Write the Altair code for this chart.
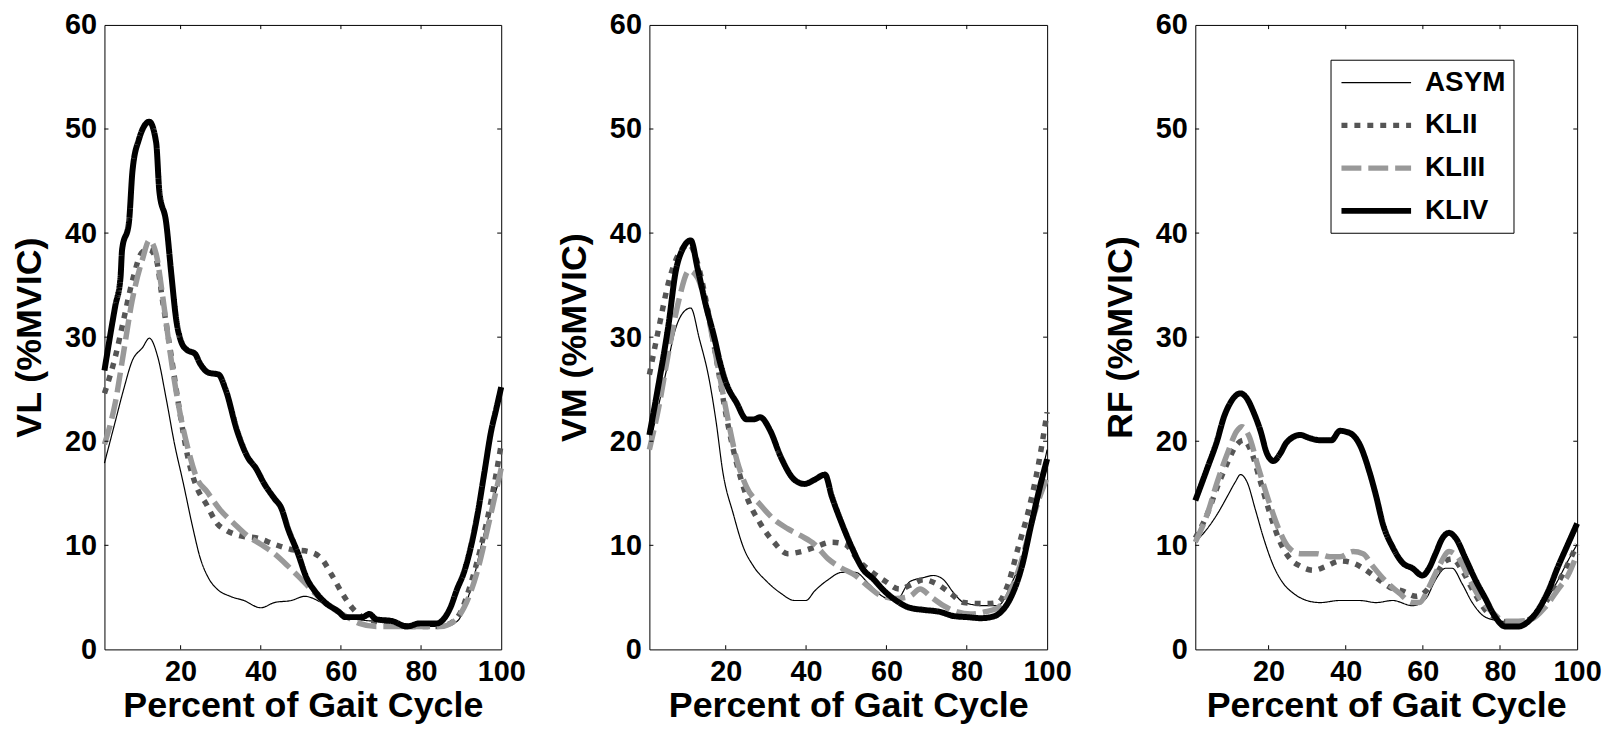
import altair as alt
import pandas as pd

FONT = "Liberation Sans"
GROUPS = ["ASYM", "KLII", "KLIII", "KLIV"]
COLORS = ["#000000", "#555555", "#999999", "#000000"]
DASHES = [[1, 0], [6, 7], [20, 7], [1, 0]]
WIDTHS = [1.2, 5.5, 5.5, 6]

X_TICKS = [20, 40, 60, 80, 100]
Y_TICKS = [0, 10, 20, 30, 40, 50, 60]

# ---------------- VL ----------------
VL_ASYM_X = [1, 3.7, 5.8, 7.9, 10.5, 12.2, 14.3, 16.4, 18.5, 20.6, 23.1, 24.8, 26.9, 29.1, 32.4, 35.8, 40, 43.4, 47.6, 51, 55.2, 59.5, 63.7, 68.8, 75.5, 81.4, 85.6, 89, 92.4, 95.8, 98.3, 100]
VL_ASYM_Y = [17.9, 21.9, 25, 27.7, 29, 29.9, 28.1, 24.1, 19.7, 16.1, 11.6, 8.9, 6.9, 5.8, 5.1, 4.7, 4.0, 4.5, 4.7, 5.1, 4.5, 3.6, 2.9, 2.7, 2.5, 2.2, 2.2, 2.7, 5.8, 11.2, 14.7, 17]
VL_KLII_X = [1, 3.7, 5.8, 7.9, 10.5, 12.2, 13.9, 15.5, 17.7, 19.8, 21.9, 24, 26.5, 29.1, 31.6, 35, 39.2, 43.4, 47.6, 51.9, 55.2, 57.8, 60.3, 62.8, 65.4, 68.8, 73, 77.2, 84, 87.3, 89.9, 92.4, 94.9, 97.5, 100]
VL_KLII_Y = [24.6, 28.1, 31.7, 35.3, 38.2, 38.4, 37.5, 33.5, 28.1, 22.8, 18.3, 15.6, 13.9, 12.1, 11.4, 10.9, 10.7, 10.1, 9.6, 9.4, 8.7, 7.1, 5.4, 4, 3.1, 2.7, 2.5, 2.2, 2.2, 2.5, 3.6, 6.3, 9.8, 14.3, 19.7]
VL_KLIII_X = [1, 3.7, 5.8, 7.9, 10.5, 12.2, 13.9, 15.5, 17.7, 19.8, 21.9, 24, 26.5, 29.9, 33.3, 36.7, 40, 43.4, 46.8, 50.2, 53.5, 56.9, 60.3, 64.6, 68.8, 77.2, 84.8, 88.2, 90.7, 94.1, 96.6, 98.7, 100]
VL_KLIII_Y = [19.7, 23.7, 28.6, 33.5, 37.5, 39.3, 38, 34, 27.7, 22.8, 19.2, 16.5, 15.2, 13.4, 12.1, 10.9, 10.1, 9.2, 8, 6.7, 5.4, 4.2, 3.4, 2.5, 2.2, 2.2, 2.2, 2.7, 4, 7.6, 11.6, 15.2, 17.4]
VL_KLIV_X = [1, 3.7, 5, 5.4, 7.1, 8, 9.6, 12.2, 13.9, 14.7, 16.4, 17.7, 18.9, 20.2, 21.5, 23.6, 24.8, 26.9, 29.5, 31.2, 34.1, 36.7, 38.8, 40.9, 43.4, 45.1, 46.8, 49.3, 51.4, 53.5, 56.1, 59.5, 61.1, 65.4, 67.1, 68.8, 73, 76.4, 79.7, 84, 85.6, 87.3, 89, 90.7, 92.4, 94.1, 95.8, 97.5, 98.7, 100]
VL_KLIV_Y = [26.8, 33, 35.7, 38.4, 41, 46, 49, 50.7, 48.7, 44, 41, 36, 31.7, 29.5, 28.8, 28.4, 27.5, 26.6, 26.4, 25, 21, 18.5, 17.4, 15.9, 14.5, 13.6, 11.6, 9.2, 6.9, 5.6, 4.5, 3.6, 3.1, 3.1, 3.4, 2.9, 2.7, 2.2, 2.5, 2.5, 2.9, 4, 5.8, 7.4, 9.8, 13, 17, 21, 23, 25.2]

# ---------------- VM ----------------
VM_ASYM_X = [1, 5, 7.5, 10, 11.3, 13.4, 15.9, 17.6, 19.3, 21.9, 24.4, 26.9, 30.3, 33.7, 37.1, 40, 42.1, 45.5, 48.9, 52.3, 55.6, 59, 62.4, 65.8, 69.2, 71.7, 74.2, 76.8, 79.3, 84.4, 87.7, 91.1, 94.5, 97, 100]
VM_ASYM_Y = [19.5, 26.4, 30.8, 32.6, 32.8, 29.9, 25.9, 21.9, 17, 13, 9.8, 8, 6.5, 5.4, 4.7, 4.7, 5.6, 6.7, 7.4, 7.4, 6.3, 5.1, 4.7, 6.5, 6.9, 7.1, 6.7, 5.4, 4.5, 4.2, 4.2, 6.3, 9.8, 13.9, 19.2]
VM_KLII_X = [1, 3.3, 5.8, 8.3, 10.9, 13, 15.1, 17.6, 20.2, 22.7, 25.2, 28.6, 32, 35.4, 38.8, 42.1, 46.4, 49.7, 53.1, 56.5, 59.9, 63.2, 66.6, 69.2, 72.5, 75.9, 79.3, 84.4, 87.7, 90.3, 92.8, 95.4, 97.9, 100]
VM_KLII_Y = [26.4, 30.8, 35.3, 38, 38.9, 37.1, 33.5, 28.1, 22.3, 17.9, 14.7, 12.1, 10.3, 9.2, 9.4, 9.8, 10.3, 10.1, 8.5, 7.4, 6.5, 5.8, 6.3, 6.7, 6.3, 5.4, 4.5, 4.4, 4.5, 6.3, 9.8, 13.4, 17.9, 22.8]
VM_KLIII_X = [1, 3.3, 5.8, 8.3, 10.9, 13, 15.1, 17.6, 20.2, 22.7, 25.2, 28.6, 32, 35.4, 38.8, 42.1, 45.5, 48.9, 52.3, 55.6, 59, 62.4, 65.8, 68.4, 70.9, 74.2, 77.6, 81, 84.4, 87.7, 91.1, 93.6, 96.1, 98.2, 100]
VM_KLIII_Y = [19.2, 23.2, 28.6, 33.5, 36.4, 35.7, 33, 28.1, 22.8, 18.3, 15.6, 13.9, 12.5, 11.6, 10.9, 10.1, 8.7, 7.8, 7.1, 6, 5.1, 4.9, 5.1, 5.8, 5.1, 4.2, 3.6, 3.4, 3.6, 4, 5.8, 8.5, 12.1, 14.7, 16.5]
VM_KLIV_X = [1, 3.3, 5.8, 7.5, 9.2, 11.3, 13, 15.1, 17.2, 18.5, 20.2, 22.7, 25.2, 26.9, 28.6, 31.1, 33.7, 37.1, 39.6, 42.1, 44.7, 46.4, 48.9, 51.4, 54, 56.9, 59, 62.4, 65.8, 69.2, 73.4, 76.8, 80.1, 83.5, 86, 88.5, 91.1, 93.6, 96.1, 98.2, 100]
VM_KLIV_Y = [20.6, 25.5, 31.3, 36.2, 38.4, 39.3, 36.6, 33, 29.9, 27.7, 25.5, 23.7, 22.1, 22.1, 22.3, 21, 18.5, 16.3, 15.9, 16.3, 16.8, 14.7, 12.1, 9.8, 7.8, 6.7, 5.8, 4.7, 4, 3.8, 3.6, 3.2, 3.1, 3, 3.1, 3.6, 5.1, 7.8, 12.1, 15.6, 18.3]

# ---------------- RF ----------------
RF_ASYM_X = [1, 4.1, 6.7, 9.3, 11.4, 12.7, 14.4, 16.6, 18.7, 21.3, 23.9, 26.4, 29.9, 33.3, 38.5, 43.6, 47.9, 52.2, 57.3, 60.8, 63.3, 65.9, 67.6, 70.2, 72.8, 76.2, 80.5, 84.8, 88.2, 91.6, 95.1, 97.6, 100]
RF_ASYM_Y = [10.3, 11.6, 13, 14.7, 16.1, 16.8, 16.1, 13.4, 10.7, 8, 6.3, 5.4, 4.7, 4.5, 4.7, 4.7, 4.5, 4.7, 4.2, 4.9, 6.7, 7.8, 7.8, 6.3, 4.5, 3.1, 2.7, 2.5, 2.9, 4.5, 6.7, 8.5, 10.1]
RF_KLII_X = [1, 4.1, 6.7, 9.3, 11.8, 13.6, 15.3, 17.9, 20.4, 23, 25.6, 28.2, 31.6, 35, 38.5, 41.9, 44.5, 47.9, 51.3, 54.8, 58.2, 60.8, 63.3, 65.9, 67.6, 70.2, 72.8, 76.2, 79.7, 83.1, 86.5, 89.9, 93.4, 96.8, 100]
RF_KLII_Y = [10.7, 13, 15.6, 17.9, 19.7, 20.1, 19.2, 16.1, 13, 10.3, 8.7, 8, 7.6, 8, 8.5, 8.3, 7.8, 6.9, 6, 5.6, 5.1, 5.6, 7.1, 8.5, 8.7, 7.6, 5.8, 3.8, 2.9, 2.5, 2.7, 3.6, 5.4, 7.6, 10.1]
RF_KLIII_X = [1, 4.1, 6.7, 9.3, 11.8, 13.1, 14.8, 17.4, 20, 22.6, 25.2, 28.2, 32.4, 35.9, 38.5, 41.9, 44.5, 47, 50.5, 53.9, 57.3, 59.1, 61.6, 64.2, 66.8, 69.4, 71.9, 74.5, 77.9, 81.4, 84.8, 88.2, 91.6, 95.1, 97.6, 100]
RF_KLIII_Y = [10.3, 13, 16.1, 18.8, 21, 21.4, 20.6, 17.4, 14.3, 11.6, 9.8, 9.2, 9.2, 8.9, 8.9, 9.4, 9.2, 8, 6.5, 5.4, 4.5, 4.5, 6, 8, 9.4, 8.7, 6.9, 5.1, 3.6, 2.7, 2.7, 2.9, 4, 5.8, 7.1, 9.2]
RF_KLIV_X = [1, 4.1, 6.7, 8.4, 10.1, 12.7, 14.4, 16.1, 17.9, 19.6, 21.3, 23, 24.7, 28.2, 30.7, 33.3, 36.3, 38.5, 41, 43.6, 46.2, 47.9, 49.6, 52.2, 54.8, 57.3, 59.9, 61.6, 63.3, 65.1, 66.8, 68.5, 71.1, 73.6, 76.2, 78.8, 81.4, 84.8, 87.4, 89.9, 92.5, 95.1, 97.6, 100]
RF_KLIV_Y = [14.3, 17.4, 20.1, 22.3, 23.7, 24.6, 24.1, 22.8, 21, 18.8, 18.1, 18.8, 19.9, 20.6, 20.3, 20.1, 20.1, 21, 20.8, 19.7, 17, 14.7, 12.1, 9.8, 8.3, 7.8, 7.1, 7.8, 9.2, 10.7, 11.2, 10.7, 8.7, 6.7, 4.9, 3.1, 2.2, 2.2, 2.7, 3.8, 5.6, 8, 10.1, 12.1]

PANELS = [
    ("VL", [(VL_ASYM_X, VL_ASYM_Y), (VL_KLII_X, VL_KLII_Y), (VL_KLIII_X, VL_KLIII_Y), (VL_KLIV_X, VL_KLIV_Y)]),
    ("VM", [(VM_ASYM_X, VM_ASYM_Y), (VM_KLII_X, VM_KLII_Y), (VM_KLIII_X, VM_KLIII_Y), (VM_KLIV_X, VM_KLIV_Y)]),
    ("RF", [(RF_ASYM_X, RF_ASYM_Y), (RF_KLII_X, RF_KLII_Y), (RF_KLIII_X, RF_KLIII_Y), (RF_KLIV_X, RF_KLIV_Y)]),
]

# inward tick marks (MATLAB-style box ticks), in data units
TICK_LEN_X = 1.0
TICK_LEN_Y = 0.4
tick_rows = []
for t in [20, 40, 60, 80]:
    tick_rows.append({"x": t, "x2": t, "y": 0, "y2": TICK_LEN_Y})
    tick_rows.append({"x": t, "x2": t, "y": 60, "y2": 60 - TICK_LEN_Y})
for t in [10, 20, 30, 40, 50]:
    tick_rows.append({"x": 1, "x2": 1 + TICK_LEN_X, "y": t, "y2": t})
    tick_rows.append({"x": 100, "x2": 100 - TICK_LEN_X, "y": t, "y2": t})
ticks_df = pd.DataFrame(tick_rows)

WIDTHS_PX = [399, 400, 384]
H = 628

# legend line symbol: a horizontal path longer than the slot it sits in
SYM_HALF = 2.5
SYM_PATH = f"M-{SYM_HALF},0H{SYM_HALF}"


def make_panel(name, series, show_legend, width):
    rows = []
    for g, (xs, ys) in zip(GROUPS, series):
        for i, (xv, yv) in enumerate(zip(xs, ys)):
            rows.append({"group": g, "x": xv, "y": yv, "i": i})
    df = pd.DataFrame(rows)

    if show_legend:
        legend = alt.Legend(
            title=None, orient="none", legendX=136, legendY=35,
            symbolType=SYM_PATH, symbolSize=784, symbolOffset=21,
            labelFont=FONT, labelFontSize=28, labelFontWeight="bold", labelColor="black",
            strokeColor="black", fillColor="white", padding=8,
            rowPadding=12, labelOffset=32,
        )
    else:
        legend = None

    xscale = alt.Scale(domain=[1, 100], nice=False, zero=False)
    yscale = alt.Scale(domain=[0, 60], nice=False)

    lines = alt.Chart(df).mark_line(interpolate="monotone").encode(
        x=alt.X("x:Q", scale=xscale,
                axis=alt.Axis(values=X_TICKS, title="Percent of Gait Cycle", ticks=False, tickSize=0,
                              domain=False, grid=False, labelPadding=8, titlePadding=2,
                              labelFlush=False)),
        y=alt.Y("y:Q", scale=yscale,
                axis=alt.Axis(values=Y_TICKS, title=f"{name} (%MVIC)", ticks=False, tickSize=0,
                              domain=False, grid=False, labelPadding=8, titlePadding=16)),
        color=alt.Color("group:N", scale=alt.Scale(domain=GROUPS, range=COLORS), legend=legend),
        strokeDash=alt.StrokeDash("group:N", scale=alt.Scale(domain=GROUPS, range=DASHES), legend=legend),
        strokeWidth=alt.StrokeWidth("group:N", scale=alt.Scale(type="ordinal", domain=GROUPS, range=WIDTHS),
                                    legend=legend),
        order="i:Q",
    )

    tk = alt.Chart(ticks_df).mark_rule(color="black", strokeWidth=1).encode(
        x=alt.X("x:Q", scale=xscale), x2="x2:Q",
        y=alt.Y("y:Q", scale=yscale), y2="y2:Q",
    )
    return alt.layer(lines, tk).properties(width=width, height=H)


charts = [make_panel(n, s, i == 2, WIDTHS_PX[i]) for i, (n, s) in enumerate(PANELS)]

chart = alt.hconcat(*charts, spacing=30).resolve_legend(
    color="independent", strokeDash="independent", strokeWidth="independent"
).configure(
    padding={"left": 3, "top": 0, "right": 0, "bottom": 0},
    font=FONT,
).configure_view(
    stroke="black", strokeWidth=1
).configure_axis(
    labelFont=FONT, labelFontSize=29, labelFontWeight="bold", labelColor="black",
    titleFont=FONT, titleFontSize=36, titleFontWeight="bold", titleColor="black",
)

chart.save("out.html", embed_options={"renderer": "svg", "actions": False})
